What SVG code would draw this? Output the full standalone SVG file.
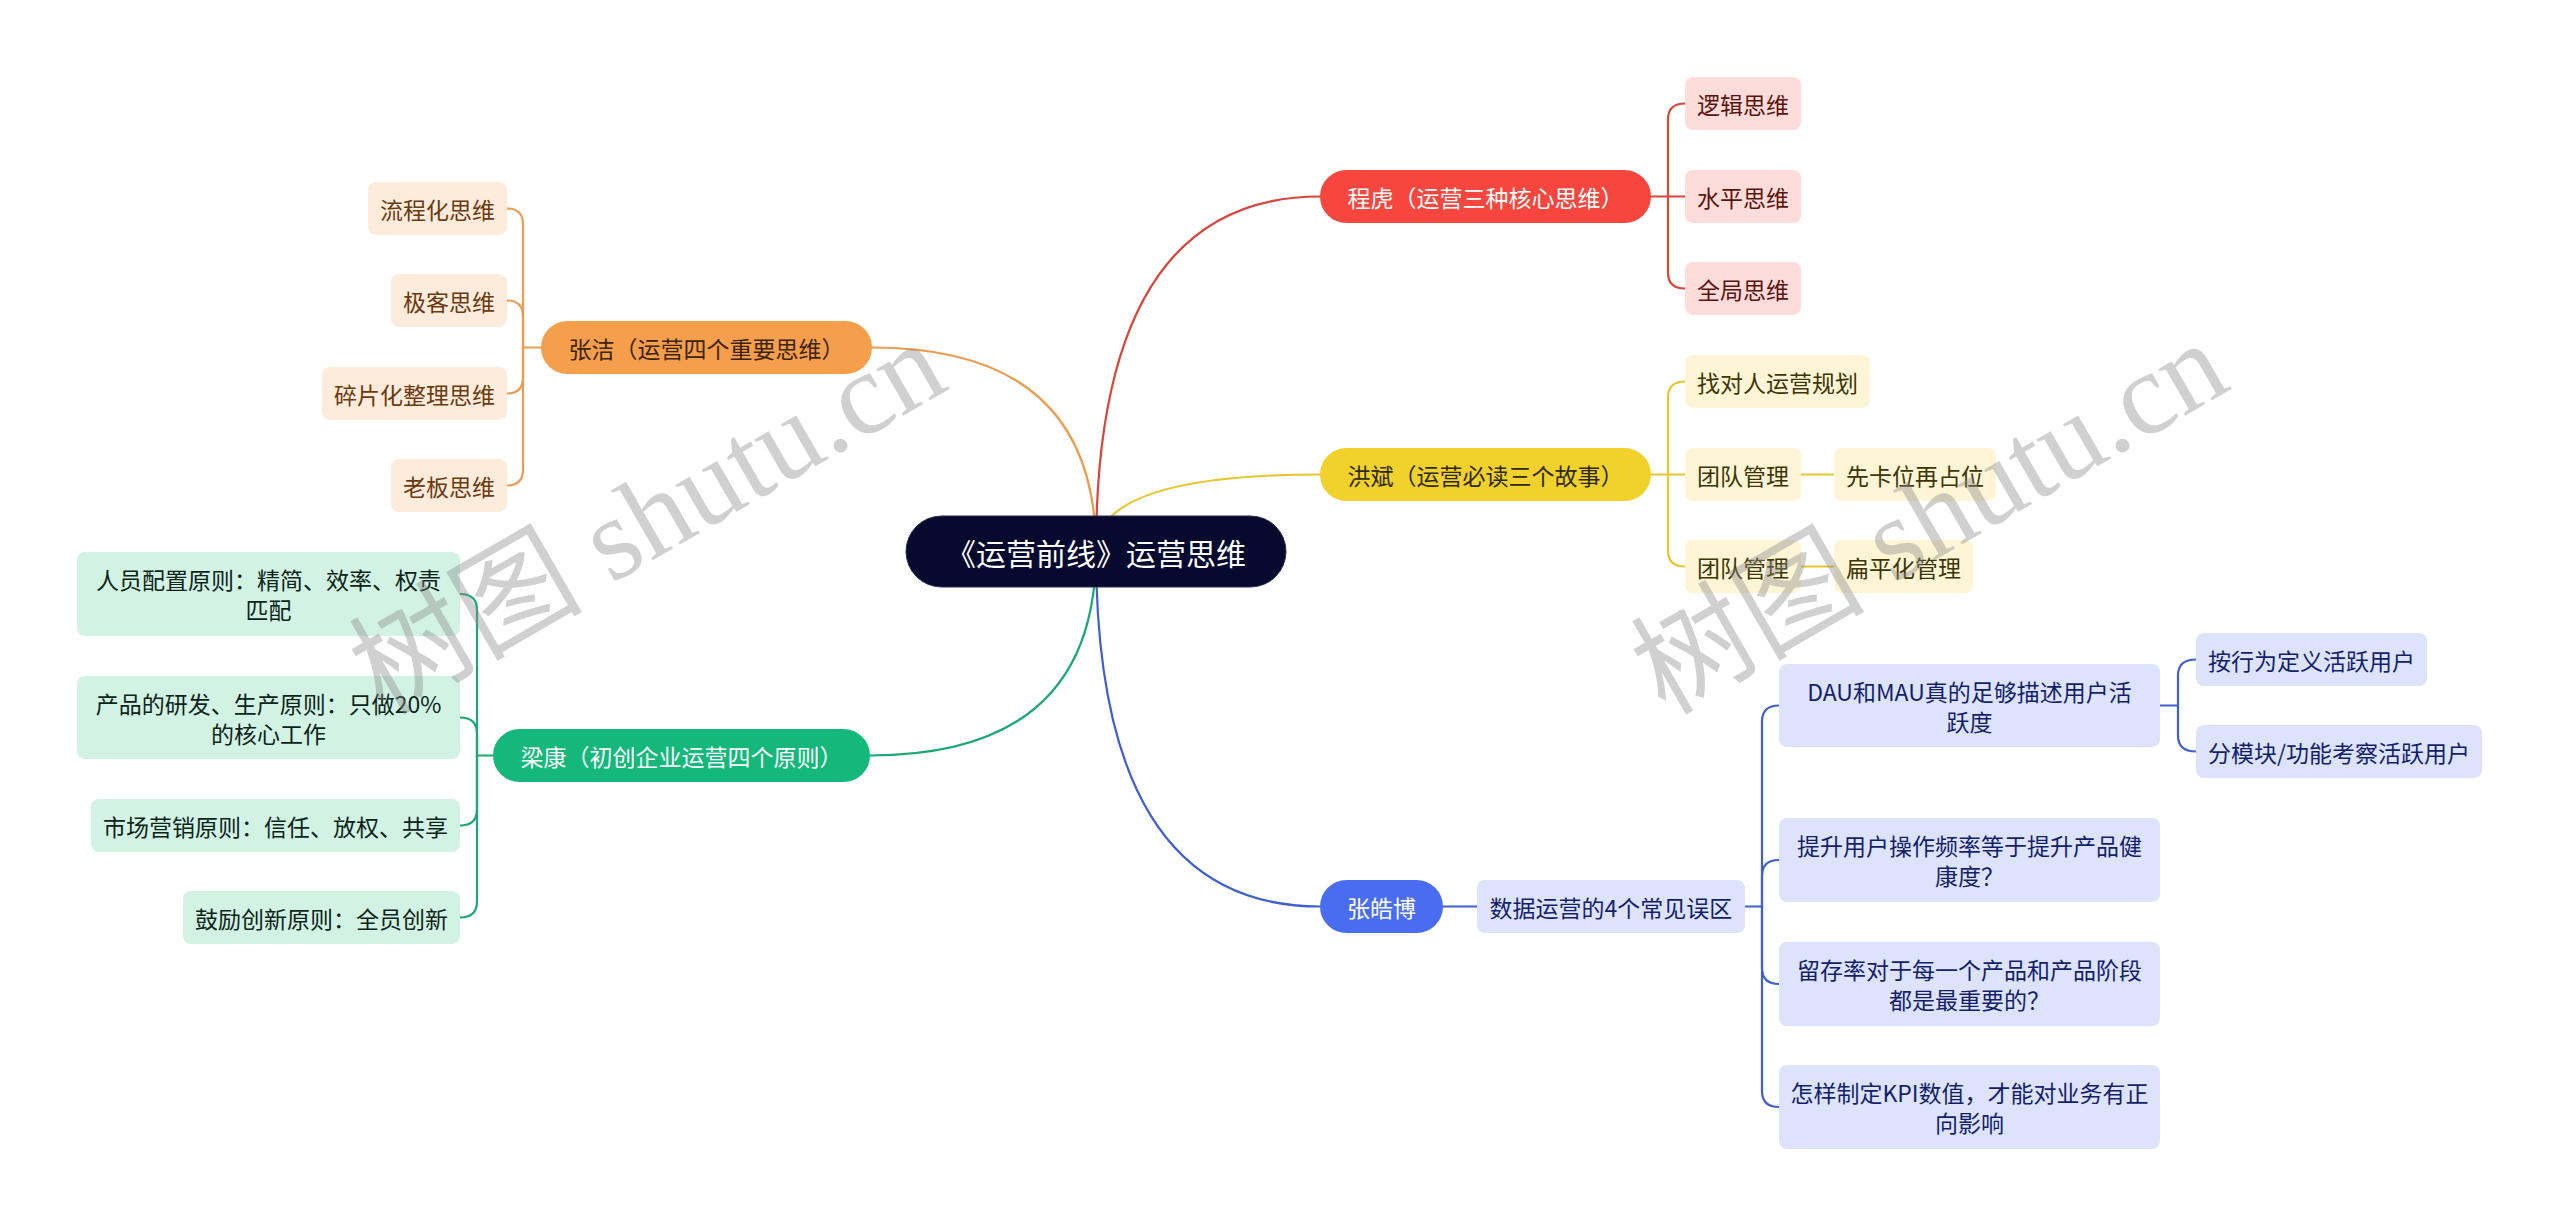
<svg xmlns="http://www.w3.org/2000/svg" width="2560" height="1227" viewBox="0 0 2560 1227">
<style>
text{font-family:"Noto Sans CJK SC","Liberation Sans",sans-serif;font-size:23px;text-anchor:middle;dominant-baseline:central}
.c path{fill:none;stroke-width:2.2;stroke-linecap:round}
.cr path{stroke:#d8453b}.cy path{stroke:#e8c630}.co path{stroke:#ea9c50}.cg path{stroke:#1ba872}.cb path{stroke:#3f5fd0}
.mr{fill:#f6463d}.my{fill:#f1d12c}.mo{fill:#f59e4c}.mg{fill:#14b87b}.mb{fill:#4a6cf0}
.sr{fill:#fddcda}.sy{fill:#fdf5d5}.so{fill:#fdebdc}.sg{fill:#d2f2e4}.sb{fill:#dce3fb}
.tw{fill:#ffffff}.tr{fill:#5a140f}.ty{fill:#3d3505}.to{fill:#6b3a0e}.tg{fill:#0d2419}.tb{fill:#141f6b}.tyd{fill:#2e2a10}.tod{fill:#3d2408}
.wm{font-family:"Liberation Serif","Noto Sans CJK SC",serif;font-size:117px;fill:#8a8a8a;fill-opacity:0.4;text-anchor:start;dominant-baseline:auto}
</style>
<rect width="2560" height="1227" fill="#ffffff"/>
<g id="connectors" class="c">
 <g class="co"><path d="M1096 551 Q1096 347.5 872 347.5"/><path d="M541 347.5 H523"/><path d="M523 347.5 V224.5 Q523 208.5 507 208.5"/><path d="M523 347.5 V316.5 Q523 300.5 507 300.5"/><path d="M523 347.5 V377.5 Q523 393.5 507 393.5"/><path d="M523 347.5 V469.5 Q523 485.5 507 485.5"/></g>
 <g class="cr"><path d="M1096 551 Q1096 196.5 1320 196.5"/><path d="M1651 196.5 H1685"/><path d="M1668 196.5 V119.5 Q1668 103.5 1685 103.5"/><path d="M1668 196.5 V272.5 Q1668 288.5 1685 288.5"/></g>
 <g class="cy"><path d="M1096 551 Q1096 474.5 1320 474.5"/><path d="M1651 474.5 H1685"/><path d="M1668 474.5 V397.5 Q1668 381.5 1685 381.5"/><path d="M1668 474.5 V550.5 Q1668 566.5 1685 566.5"/><path d="M1801 474.5 H1834"/><path d="M1801 566.5 H1834"/></g>
 <g class="cg"><path d="M1096 551 Q1096 755.5 870 755.5"/><path d="M493 755.5 H477"/><path d="M477 755.5 V610 Q477 594 460 594"/><path d="M477 755.5 V733.5 Q477 717.5 460 717.5"/><path d="M477 755.5 V809.5 Q477 825.5 460 825.5"/><path d="M477 755.5 V901.5 Q477 917.5 460 917.5"/></g>
 <g class="cb"><path d="M1096 551 Q1096 906.5 1320 906.5"/><path d="M1443 906.5 H1477"/><path d="M1745 906.5 H1762"/><path d="M1762 906.5 V721.5 Q1762 705.5 1779 705.5"/><path d="M1762 906.5 V876 Q1762 860 1779 860"/><path d="M1762 906.5 V968 Q1762 984 1779 984"/><path d="M1762 906.5 V1091 Q1762 1107 1779 1107"/><path d="M2160 705.5 H2178"/><path d="M2178 705.5 V675.5 Q2178 659.5 2196 659.5"/><path d="M2178 705.5 V735.5 Q2178 751.5 2196 751.5"/></g>
</g>
<g id="root"><rect x="906" y="516" width="380" height="71" rx="35.5" fill="#050a2e" stroke="#2a2f4f" stroke-width="1"/><text x="1096" y="551.5" class="tw" style="font-size:30px">《运营前线》运营思维</text></g>
<g id="chenghu"><rect x="1320" y="170" width="331" height="53" rx="26.5" class="mr"/><text x="1485.5" y="196.5" class="tw">程虎（运营三种核心思维）</text></g>
<g id="r1"><rect x="1685" y="77" width="116" height="53" rx="8" class="sr"/><text x="1743" y="103.5" class="tr">逻辑思维</text></g>
<g id="r2"><rect x="1685" y="170" width="116" height="53" rx="8" class="sr"/><text x="1743" y="196.5" class="tr">水平思维</text></g>
<g id="r3"><rect x="1685" y="262" width="116" height="53" rx="8" class="sr"/><text x="1743" y="288.5" class="tr">全局思维</text></g>
<g id="hongbin"><rect x="1320" y="448" width="331" height="53" rx="26.5" class="my"/><text x="1485.5" y="474.5" class="tyd">洪斌（运营必读三个故事）</text></g>
<g id="y1"><rect x="1685" y="355" width="185" height="53" rx="8" class="sy"/><text x="1777.5" y="381.5" class="ty">找对人运营规划</text></g>
<g id="y2"><rect x="1685" y="448" width="116" height="53" rx="8" class="sy"/><text x="1743" y="474.5" class="ty">团队管理</text></g>
<g id="y2a"><rect x="1834" y="448" width="162" height="53" rx="8" class="sy"/><text x="1915" y="474.5" class="ty">先卡位再占位</text></g>
<g id="y3"><rect x="1685" y="540" width="116" height="53" rx="8" class="sy"/><text x="1743" y="566.5" class="ty">团队管理</text></g>
<g id="y3a"><rect x="1834" y="540" width="139" height="53" rx="8" class="sy"/><text x="1903.5" y="566.5" class="ty">扁平化管理</text></g>
<g id="zhangjie"><rect x="541" y="321" width="331" height="53" rx="26.5" class="mo"/><text x="706.5" y="347.5" class="tod">张洁（运营四个重要思维）</text></g>
<g id="o1"><rect x="368" y="182" width="139" height="53" rx="8" class="so"/><text x="437.5" y="208.5" class="to">流程化思维</text></g>
<g id="o2"><rect x="391" y="274" width="116" height="53" rx="8" class="so"/><text x="449" y="300.5" class="to">极客思维</text></g>
<g id="o3"><rect x="322" y="367" width="185" height="53" rx="8" class="so"/><text x="414.5" y="393.5" class="to">碎片化整理思维</text></g>
<g id="o4"><rect x="391" y="459" width="116" height="53" rx="8" class="so"/><text x="449" y="485.5" class="to">老板思维</text></g>
<g id="liangkang"><rect x="493" y="729" width="377" height="53" rx="26.5" class="mg"/><text x="681.5" y="755.5" class="tw">梁康（初创企业运营四个原则）</text></g>
<g id="g1"><rect x="77" y="552" width="383" height="84" rx="8" class="sg"/><text x="268.5" y="579" class="tg">人员配置原则：精简、效率、权责</text><text x="268.5" y="609" class="tg">匹配</text></g>
<g id="g2"><rect x="77" y="676" width="383" height="83" rx="8" class="sg"/><text x="268.5" y="702.5" class="tg">产品的研发、生产原则：只做20%</text><text x="268.5" y="732.5" class="tg">的核心工作</text></g>
<g id="g3"><rect x="91" y="799" width="369" height="53" rx="8" class="sg"/><text x="275.5" y="825.5" class="tg">市场营销原则：信任、放权、共享</text></g>
<g id="g4"><rect x="183" y="891" width="277" height="53" rx="8" class="sg"/><text x="321.5" y="917.5" class="tg">鼓励创新原则：全员创新</text></g>
<g id="zhanghaobo"><rect x="1320" y="880" width="123" height="53" rx="26.5" class="mb"/><text x="1381.5" y="906.5" class="tw">张皓博</text></g>
<g id="b0"><rect x="1477" y="880" width="268" height="53" rx="8" class="sb"/><text x="1611" y="906.5" class="tb">数据运营的4个常见误区</text></g>
<g id="b1"><rect x="1779" y="664" width="381" height="83" rx="8" class="sb"/><text x="1969.5" y="690.5" class="tb">DAU和MAU真的足够描述用户活</text><text x="1969.5" y="720.5" class="tb">跃度</text></g>
<g id="b1a"><rect x="2196" y="633" width="231" height="53" rx="8" class="sb"/><text x="2311.5" y="659.5" class="tb">按行为定义活跃用户</text></g>
<g id="b1b"><rect x="2196" y="725" width="286" height="53" rx="8" class="sb"/><text x="2339" y="751.5" class="tb">分模块/功能考察活跃用户</text></g>
<g id="b2"><rect x="1779" y="818" width="381" height="84" rx="8" class="sb"/><text x="1969.5" y="845" class="tb">提升用户操作频率等于提升产品健</text><text x="1969.5" y="875" class="tb">康度？</text></g>
<g id="b3"><rect x="1779" y="942" width="381" height="84" rx="8" class="sb"/><text x="1969.5" y="969" class="tb">留存率对于每一个产品和产品阶段</text><text x="1969.5" y="999" class="tb">都是最重要的？</text></g>
<g id="b4"><rect x="1779" y="1065" width="381" height="84" rx="8" class="sb"/><text x="1969.5" y="1092" class="tb">怎样制定KPI数值，才能对业务有正</text><text x="1969.5" y="1122" class="tb">向影响</text></g>
<g id="watermark">
 <text class="wm" x="383" y="716" transform="rotate(-30 383 716)">树图 shutu.cn</text>
 <text class="wm" x="1665" y="716" transform="rotate(-30 1665 716)">树图 shutu.cn</text>
</g>
</svg>
